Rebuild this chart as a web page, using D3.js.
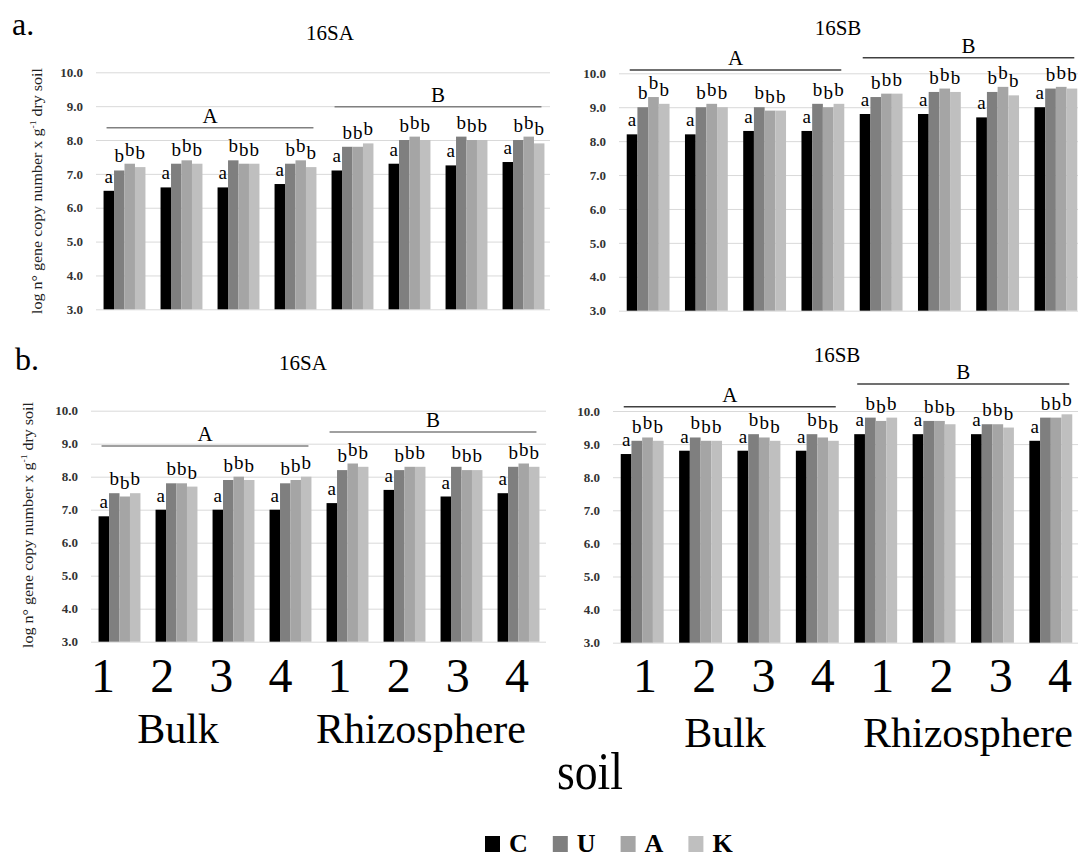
<!DOCTYPE html>
<html>
<head>
<meta charset="utf-8">
<script src="https://cdn.jsdelivr.net/npm/d3@7"></script>
<style>
body { margin: 0; background: #fff; }
</style>
</head>
<body>
<svg id="chart" width="1078" height="859"></svg>
<script>
var serifFont = "Liberation Serif";

// categories: 4 bulk soils then 4 rhizosphere soils
var soilNums = ["1", "2", "3", "4", "1", "2", "3", "4"];
var soilTypes = ["Bulk", "Rhizosphere"];
var series = ["C", "U", "A", "K"];
var seriesColors = ["#000000", "#7f7f7f", "#a5a5a5", "#bfbfbf"];
var barLetters = ["a", "b", "b", "b"];
var groupLetters = ["A", "B"];
var yTicks = [3, 4, 5, 6, 7, 8, 9, 10];

// values, one row per series (C, U, A, K)
var a16SA = [
    [6.5, 6.6, 6.6, 6.7, 7.1, 7.3, 7.25, 7.35],
    [7.1, 7.3, 7.4, 7.3, 7.8, 8.0, 8.1, 8.0],
    [7.3, 7.4, 7.3, 7.4, 7.8, 8.1, 8.0, 8.1],
    [7.2, 7.3, 7.3, 7.2, 7.9, 8.0, 8.0, 7.9]
];
var a16SB = [
    [8.2, 8.2, 8.3, 8.3, 8.8, 8.8, 8.7, 9.0],
    [9.0, 9.0, 9.0, 9.1, 9.3, 9.45, 9.45, 9.55],
    [9.3, 9.1, 8.9, 9.0, 9.4, 9.55, 9.6, 9.6],
    [9.1, 9.0, 8.9, 9.1, 9.4, 9.45, 9.35, 9.55]
];
var b16SA = [
    [6.8, 7.0, 7.0, 7.0, 7.2, 7.6, 7.4, 7.5],
    [7.5, 7.8, 7.9, 7.8, 8.2, 8.2, 8.3, 8.3],
    [7.4, 7.8, 8.0, 7.9, 8.4, 8.3, 8.2, 8.4],
    [7.5, 7.7, 7.9, 8.0, 8.3, 8.3, 8.2, 8.3]
];
var b16SB = [
    [8.7, 8.8, 8.8, 8.8, 9.3, 9.3, 9.3, 9.1],
    [9.1, 9.2, 9.3, 9.3, 9.8, 9.7, 9.6, 9.8],
    [9.2, 9.1, 9.2, 9.2, 9.7, 9.7, 9.6, 9.8],
    [9.1, 9.1, 9.1, 9.1, 9.8, 9.6, 9.5, 9.9]
];

var svg = d3.select("#chart");

// panel layouts
var panels = [
    { data: a16SA, title: "16SA", tx: 330, ty: 40, xr: [96, 552], gridR: 550, yr: [309.3, 72.3],
      lineY: [127.7, 106.7], lineCol: "#808080", ylab: { x: 42, y: 191 } },
    { data: a16SB, title: "16SB", tx: 838, ty: 35, xr: [619, 1085], gridR: 1078, yr: [310.7, 73.3],
      lineY: [70, 57.7], lineCol: "#404040" },
    { data: b16SA, title: "16SA", tx: 303, ty: 370, xr: [91, 547], gridR: 546, yr: [641.7, 410.7],
      lineY: [446, 432], lineCol: "#808080", ylab: { x: 33, y: 525 } },
    { data: b16SB, title: "16SB", tx: 837, ty: 362, xr: [613, 1080], gridR: 1078, yr: [642.7, 411],
      lineY: [406.7, 384], lineCol: "#404040" }
];

panels.forEach(drawPanel);

function drawPanel(p) {
    var x = d3
        .scaleBand()
        .domain(d3.range(soilNums.length))
        .range(p.xr)
        .paddingInner(0.265)
        .paddingOuter(0.1325);
    var xs = d3.scaleBand().domain(series).range([0, x.bandwidth()]);
    var y = d3.scaleLinear().domain([3, 10]).range(p.yr);

    var g = svg.append("g");

    // gridlines + tick labels
    var ax = g
        .append("g")
        .attr("transform", "translate(" + p.xr[0] + ",0)")
        .call(
            d3
                .axisLeft(y)
                .tickValues(yTicks)
                .tickFormat(d3.format(".1f"))
                .tickSize(-(p.gridR - p.xr[0]))
                .tickPadding(13)
        );
    ax.attr("font-family", serifFont).attr("font-size", 13);
    ax.select(".domain").remove();
    ax.selectAll("line").attr("stroke", "#d9d9d9");
    ax.selectAll("text").attr("fill", "#333").attr("font-weight", "bold");

    // bars
    var groups = g
        .selectAll(".grp")
        .data(d3.range(soilNums.length))
        .enter()
        .append("g")
        .attr("transform", function (i) {
            return "translate(" + x(i) + ",0)";
        });

    var cells = function (i) {
        return series.map(function (s, k) {
            return { s: s, k: k, v: p.data[k][i] };
        });
    };

    groups
        .selectAll("rect")
        .data(cells)
        .enter()
        .append("rect")
        .attr("x", function (d) { return xs(d.s); })
        .attr("y", function (d) { return y(d.v); })
        .attr("width", xs.bandwidth())
        .attr("height", function (d) { return y(3) - y(d.v); })
        .attr("fill", function (d) { return seriesColors[d.k]; });

    groups
        .selectAll(".lt")
        .data(cells)
        .enter()
        .append("text")
        .attr("x", function (d) { return xs(d.s) + xs.bandwidth() / 2; })
        .attr("y", function (d) { return y(d.v) - 8; })
        .attr("text-anchor", "middle")
        .attr("font-family", serifFont)
        .attr("font-size", 19)
        .text(function (d) { return barLetters[d.k]; });

    // group significance lines (A over bulk, B over rhizosphere)
    groupLetters.forEach(function (L, j) {
        var x1 = x(j * 4) + 3,
            x2 = x(j * 4 + 3) + x.bandwidth() - 3;
        g.append("line")
            .attr("x1", x1)
            .attr("x2", x2)
            .attr("y1", p.lineY[j])
            .attr("y2", p.lineY[j])
            .attr("stroke", p.lineCol)
            .attr("stroke-width", 1.5);
        g.append("text")
            .attr("x", (x1 + x2) / 2)
            .attr("y", p.lineY[j] - 5)
            .attr("text-anchor", "middle")
            .attr("font-family", serifFont)
            .attr("font-size", 21)
            .text(L);
    });

    g.append("text")
        .attr("x", p.tx)
        .attr("y", p.ty)
        .attr("text-anchor", "middle")
        .attr("font-family", serifFont)
        .attr("font-size", 21)
        .text(p.title);

    if (p.ylab) {
        var yl = g
            .append("text")
            .attr("transform", "translate(" + p.ylab.x + "," + p.ylab.y + ") rotate(-90)")
            .attr("text-anchor", "middle")
            .attr("textLength", 246)
            .attr("lengthAdjust", "spacingAndGlyphs")
            .attr("font-family", serifFont)
            .attr("font-size", 15)
            .attr("fill", "#222");
        yl.append("tspan").text("log n\u00b0 gene copy number x g");
        yl.append("tspan").attr("dy", -6).attr("font-size", 9).text("-1");
        yl.append("tspan").attr("dy", 6).text(" dry soil");
    }
}

// panel letters
svg.append("text").attr("x", 12).attr("y", 35)
    .attr("font-family", serifFont).attr("font-size", 32).text("a.");
svg.append("text").attr("x", 15).attr("y", 370)
    .attr("font-family", serifFont).attr("font-size", 32).text("b.");

// shared x-axis labels under the bottom row
var xLabL = d3.scalePoint().domain(d3.range(8)).range([103, 517]);
var xLabR = d3.scalePoint().domain(d3.range(8)).range([645, 1060]);

[xLabL, xLabR].forEach(function (sc) {
    svg.append("g")
        .selectAll("text")
        .data(soilNums)
        .enter()
        .append("text")
        .attr("x", function (d, i) { return sc(i); })
        .attr("y", 692)
        .attr("text-anchor", "middle")
        .attr("font-family", serifFont)
        .attr("font-size", 48)
        .text(function (d) { return d; });
});

var typePos = [
    { x: 178, y: 743 }, { x: 421, y: 743 },
    { x: 725, y: 747 }, { x: 968, y: 747 }
];
svg.append("g")
    .selectAll("text")
    .data(typePos)
    .enter()
    .append("text")
    .attr("x", function (d) { return d.x; })
    .attr("y", function (d) { return d.y; })
    .attr("text-anchor", "middle")
    .attr("font-family", serifFont)
    .attr("font-size", 42)
    .text(function (d, i) { return soilTypes[i % 2]; });

svg.append("text")
    .attr("x", 590)
    .attr("y", 789)
    .attr("text-anchor", "middle")
    .attr("textLength", 66)
    .attr("lengthAdjust", "spacingAndGlyphs")
    .attr("font-family", serifFont)
    .attr("font-size", 53)
    .text("soil");

// legend
var leg = svg
    .append("g")
    .selectAll("g")
    .data(series)
    .enter()
    .append("g")
    .attr("transform", function (d, i) {
        return "translate(" + (485 + i * 67.8) + ",836)";
    });
leg.append("rect")
    .attr("width", 15)
    .attr("height", 16)
    .attr("fill", function (d, i) { return seriesColors[i]; });
leg.append("text")
    .attr("x", 24)
    .attr("y", 16)
    .attr("font-family", serifFont)
    .attr("font-size", 26)
    .attr("font-weight", "bold")
    .text(function (d) { return d; });
</script>
</body>
</html>
